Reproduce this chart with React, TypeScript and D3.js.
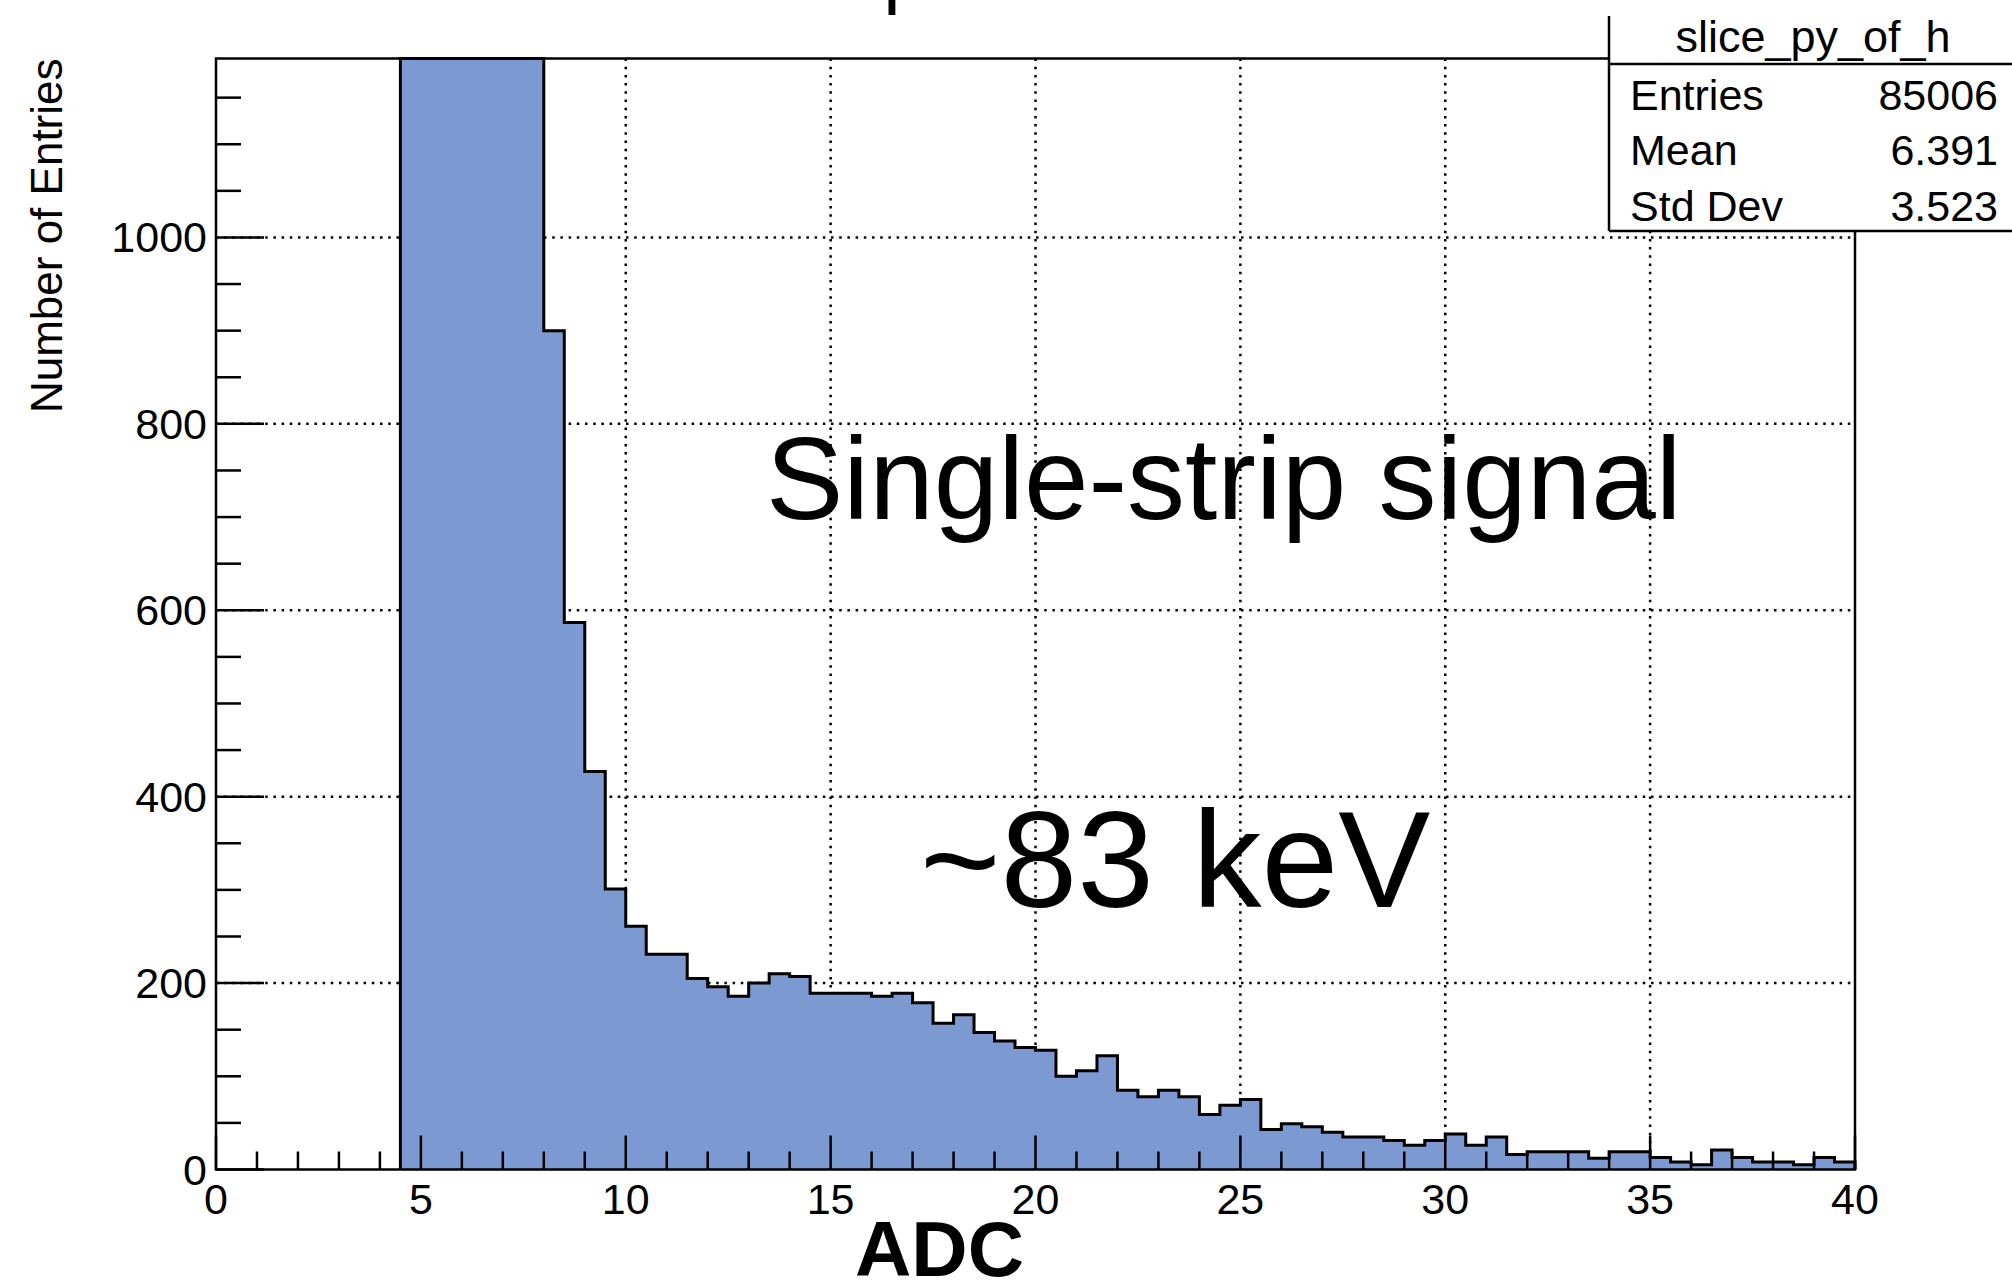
import React from 'react';
import * as d3 from 'd3';

const W = 2012;
const H = 1286;
const frame = { left: 216, right: 1855, top: 58.5, bottom: 1169.5 };
const FONT = '"Liberation Sans", Arial, Helvetica, sans-serif';
const FILL = '#7d99d1';

// histogram of ADC values, 0.5 wide bins starting at 4.5
const binWidth = 0.5;
const firstBinLow = 4.5;
// bins 4.5 - 8 run off the top of the frame
const peakCounts = [1800, 14000, 19500, 16500, 12000, 8500, 5059];
// bins 8 - 40
const tailCounts = [
  900, 587, 427, 301, 261, 231, 231, 205, 196, 186, 200, 210, 207, 189, 189, 189,
  186, 189, 179, 157, 166, 147, 138, 131, 128, 100, 106, 122, 85, 78, 85, 78,
  59, 69, 75, 43, 49, 46, 40, 35, 35, 31, 26, 31, 38, 26, 35, 16,
  19, 19, 19, 12, 19, 19, 13, 8, 5, 21, 13, 8, 8, 5, 13, 8,
];
const counts = [...peakCounts, ...tailCounts];

const xDomain = [0, 40];
const yMax = 1192;
const xMajorTicks = [0, 5, 10, 15, 20, 25, 30, 35, 40];
const yMajorTicks = [0, 200, 400, 600, 800, 1000];

const statsTitle = 'slice_py_of_h';
const statsRows = [
  ['Entries', '85006'],
  ['Mean', '6.391'],
  ['Std Dev', '3.523'],
];

export default function App() {
  const x = d3.scaleLinear().domain(xDomain).range([frame.left, frame.right]);
  const y = d3.scaleLinear().domain([0, yMax]).range([frame.bottom, frame.top]).clamp(true);

  // step outline of the histogram
  const pts: [number, number][] = [[firstBinLow, 0]];
  counts.forEach((c, i) => {
    const lo = firstBinLow + i * binWidth;
    pts.push([lo, c], [lo + binWidth, c]);
  });
  pts.push([firstBinLow + counts.length * binWidth, 0]);
  const histPath = d3.line<[number, number]>().x((d) => x(d[0])).y((d) => y(d[1]))(pts) || '';

  const xMinor = d3.range(xDomain[0], xDomain[1] + 1, 1).filter((v) => v % 5 !== 0);
  const yMinor = d3.range(0, yMax, 50).filter((v) => v % 200 !== 0);

  const dots = { stroke: '#000', strokeWidth: 2.5, strokeDasharray: '2.5 5.7' };

  return (
    <svg width={W} height={H} style={{ position: 'absolute', left: 0, top: 0, display: 'block', background: '#fff' }}>
      <rect x={0} y={0} width={W} height={H} fill="#fff" />

      {/* title, mostly above the picture */}
      <text x={658} y={-1} fontFamily={FONT} fontSize={78} fill="#000">ADC spectrum</text>

      {/* grid */}
      {xMajorTicks.filter((v) => v > xDomain[0] && v < xDomain[1]).map((v) => (
        <line key={'gx' + v} x1={x(v)} x2={x(v)} y1={frame.top} y2={frame.bottom} {...dots} />
      ))}
      {yMajorTicks.filter((v) => v > 0).map((v) => (
        <line key={'gy' + v} x1={frame.left} x2={frame.right} y1={y(v)} y2={y(v)} {...dots} />
      ))}

      {/* histogram */}
      <path d={histPath} fill={FILL} stroke="#000" strokeWidth={3} strokeLinejoin="miter" />

      {/* ticks */}
      {xMajorTicks.map((v) => (
        <line key={'tx' + v} x1={x(v)} x2={x(v)} y1={frame.bottom} y2={frame.bottom - 34} stroke="#000" strokeWidth={2.5} />
      ))}
      {xMinor.map((v) => (
        <line key={'mx' + v} x1={x(v)} x2={x(v)} y1={frame.bottom} y2={frame.bottom - 18} stroke="#000" strokeWidth={2.5} />
      ))}
      {yMajorTicks.map((v) => (
        <line key={'ty' + v} x1={frame.left} x2={frame.left + 48} y1={y(v)} y2={y(v)} stroke="#000" strokeWidth={2.5} />
      ))}
      {yMinor.map((v) => (
        <line key={'my' + v} x1={frame.left} x2={frame.left + 25} y1={y(v)} y2={y(v)} stroke="#000" strokeWidth={2.5} />
      ))}

      {/* frame */}
      <rect x={frame.left} y={frame.top} width={frame.right - frame.left} height={frame.bottom - frame.top}
        fill="none" stroke="#000" strokeWidth={2.5} />

      {/* tick labels */}
      {xMajorTicks.map((v) => (
        <text key={'lx' + v} x={x(v)} y={1214} textAnchor="middle" fontFamily={FONT} fontSize={43} fill="#000">{v}</text>
      ))}
      {yMajorTicks.map((v) => (
        <text key={'ly' + v} x={207} y={y(v) + 15} textAnchor="end" fontFamily={FONT} fontSize={43} fill="#000">{v}</text>
      ))}

      {/* axis titles */}
      <text x={855} y={1276} fontFamily={FONT} fontSize={78} fontWeight="bold" fill="#000">ADC</text>
      <text transform={`translate(62,${frame.top}) rotate(-90)`} textAnchor="end" fontFamily={FONT} fontSize={44} fill="#000">
        Number of Entries
      </text>

      {/* annotations */}
      <text x={766} y={519} fontFamily={FONT} fontSize={116} fill="#000">Single-strip signal</text>
      <text x={920} y={907} fontFamily={FONT} fontSize={138} fill="#000">~83 keV</text>

      {/* stats box */}
      <rect x={1609} y={16} width={W - 1609 + 20} height={231 - 16} fill="#fff" />
      <line x1={1609} x2={1609} y1={16} y2={231} stroke="#000" strokeWidth={2.5} />
      <line x1={1609} x2={W} y1={64} y2={64} stroke="#000" strokeWidth={2.5} />
      <line x1={1609} x2={W} y1={231} y2={231} stroke="#000" strokeWidth={2.5} />
      <text x={1813} y={52} textAnchor="middle" fontFamily={FONT} fontSize={45} fill="#000">{statsTitle}</text>
      {statsRows.map(([k, v], i) => (
        <g key={k}>
          <text x={1630} y={110 + i * 55.3} fontFamily={FONT} fontSize={43} fill="#000">{k}</text>
          <text x={1998} y={110 + i * 55.3} textAnchor="end" fontFamily={FONT} fontSize={43} fill="#000">{v}</text>
        </g>
      ))}
    </svg>
  );
}
